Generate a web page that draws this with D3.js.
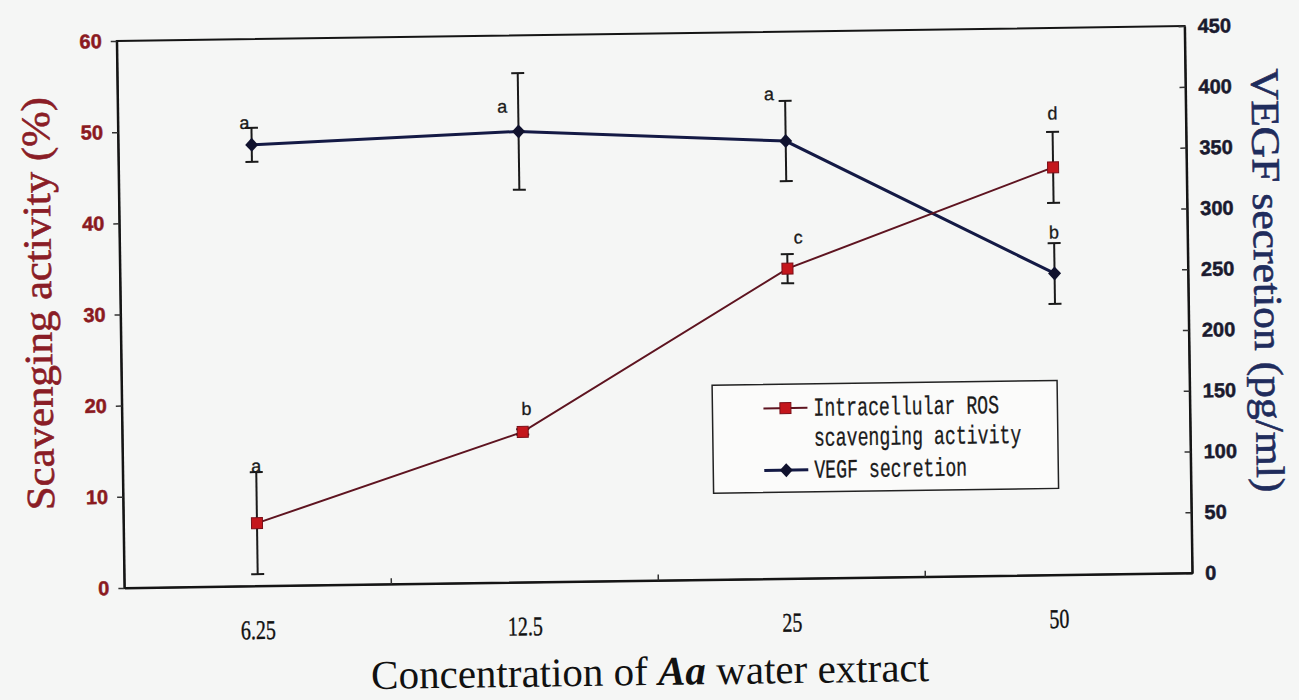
<!DOCTYPE html>
<html>
<head>
<meta charset="utf-8">
<script src="https://cdn.jsdelivr.net/npm/d3@7"></script>
<style>
  html, body { margin: 0; padding: 0; background: #f5f6f5; }
  svg { display: block; }
</style>
</head>
<body>
<svg id="chart" width="1299" height="700"></svg>
<script>
// ---- data ----
const concentrations = ["6.25", "12.5", "25", "50"];
const rosActivity = [6.9, 16.5, 34.0, 44.7];     // Intracellular ROS scavenging activity (%)
const rosError = [5.6, 0.3, 1.6, 3.9];
const rosLetters = ["a", "b", "c", "d"];
const vegfSecretion = [363, 371, 360, 248];      // VEGF secretion (pg/ml)
const vegfError = [14, 48, 33, 25];
const vegfLetters = ["a", "a", "a", "b"];
const leftTicks = [0, 10, 20, 30, 40, 50, 60];
const rightTicks = [0, 50, 100, 150, 200, 250, 300, 350, 400, 450];
const legendLabels = [["Intracellular ROS", "scavenging activity"], ["VEGF secretion"]];

// ---- layout ----
const plot = { left: 120.5, right: 1188.5, top: 33.5, bottom: 580.5 };
// nudges for the significance letters, relative to each point
const rosLetterNudge = [[0, -57], [4, -23], [11, -31], [0, -54]];
const vegfLetterNudge = [[-7, -22], [-16, -25], [-16, -47], [0, -41]];

const RED = "#c4161c", RED_DARK = "#7a0f18", MAROON = "#5e1420";
const NAVY = "#141a45";
const LEFT_COLOR = "#8b1a1f", RIGHT_COLOR = "#1a1a2e";

const svg = d3.select("#chart");
const root = svg.append("g").attr("transform", "rotate(-0.8,654.5,307)");

const x = d3.scaleBand().domain(concentrations).range([plot.left, plot.right]);
const cx = c => x(c) + x.bandwidth() / 2;
const yL = d3.scaleLinear().domain([0, 60]).range([plot.bottom, plot.top]);
const yR = d3.scaleLinear().domain([0, 450]).range([plot.bottom, plot.top]);

// frame
root.append("rect")
  .attr("x", plot.left).attr("y", plot.top)
  .attr("width", plot.right - plot.left).attr("height", plot.bottom - plot.top)
  .attr("fill", "none").attr("stroke", "#151515").attr("stroke-width", 2);

const tickFont = "'Liberation Sans', Arial, sans-serif";

// left axis
const gL = root.append("g").attr("transform", `translate(${plot.left},0)`)
  .call(d3.axisLeft(yL).tickValues(leftTicks).tickSize(6).tickSizeOuter(0).tickPadding(9));
gL.select(".domain").attr("stroke", "#151515").attr("stroke-width", 2);
gL.selectAll(".tick line").attr("stroke", "#333").attr("stroke-width", 1.5);
gL.selectAll(".tick text")
  .attr("font-family", tickFont).attr("font-weight", "bold").attr("font-size", 20)
  .attr("fill", LEFT_COLOR).attr("stroke", LEFT_COLOR).attr("stroke-width", 0.5);

// right axis
const gR = root.append("g").attr("transform", `translate(${plot.right},0)`)
  .call(d3.axisRight(yR).tickValues(rightTicks).tickSize(-6).tickSizeOuter(0).tickPadding(13));
gR.select(".domain").attr("stroke", "#151515").attr("stroke-width", 2);
gR.selectAll(".tick line").attr("stroke", "#333").attr("stroke-width", 1.5);
gR.selectAll(".tick text")
  .attr("font-family", tickFont).attr("font-weight", "bold").attr("font-size", 20)
  .attr("fill", RIGHT_COLOR).attr("stroke", RIGHT_COLOR).attr("stroke-width", 0.5);

// bottom axis: labels centred in each category
const gB = root.append("g").attr("transform", `translate(0,${plot.bottom})`)
  .call(d3.axisBottom(x).tickSize(0).tickSizeOuter(0));
gB.select(".domain").attr("stroke", "#151515").attr("stroke-width", 2);
gB.selectAll(".tick text")
  .attr("y", 53).attr("dy", 0)
  .attr("transform", "scale(0.74,1)")
  .attr("font-family", "'Liberation Serif', 'Times New Roman', serif")
  .attr("font-size", 27).attr("fill", "#111").attr("stroke", "#111").attr("stroke-width", 0.4);

// category separator ticks (inside)
root.append("g").selectAll("line")
  .data(concentrations.slice(1))
  .join("line")
  .attr("x1", d => x(d)).attr("x2", d => x(d))
  .attr("y1", plot.bottom).attr("y2", plot.bottom - 6)
  .attr("stroke", "#333").attr("stroke-width", 1.5);

// ---- series ----
const rosLine = d3.line().x((d, i) => cx(concentrations[i])).y(d => yL(d));
const vegfLine = d3.line().x((d, i) => cx(concentrations[i])).y(d => yR(d));

root.append("path").datum(vegfSecretion).attr("d", vegfLine)
  .attr("fill", "none").attr("stroke", NAVY).attr("stroke-width", 3);
root.append("path").datum(rosActivity).attr("d", rosLine)
  .attr("fill", "none").attr("stroke", MAROON).attr("stroke-width", 2);

// error bars
function errorBars(values, errors, scale) {
  const g = root.append("g").attr("stroke", "#1a1a1a").attr("stroke-width", 2);
  values.forEach((v, i) => {
    const xc = cx(concentrations[i]);
    const y0 = scale(v - errors[i]), y1 = scale(v + errors[i]);
    g.append("line").attr("x1", xc).attr("x2", xc).attr("y1", y0).attr("y2", y1);
    g.append("line").attr("x1", xc - 6.5).attr("x2", xc + 6.5).attr("y1", y0).attr("y2", y0);
    g.append("line").attr("x1", xc - 6.5).attr("x2", xc + 6.5).attr("y1", y1).attr("y2", y1);
  });
}
errorBars(vegfSecretion, vegfError, yR);
errorBars(rosActivity, rosError, yL);

// markers
const diamond = "M0,-7L6.5,0L0,7L-6.5,0Z";
root.append("g").selectAll("path")
  .data(vegfSecretion).join("path")
  .attr("d", diamond)
  .attr("transform", (d, i) => `translate(${cx(concentrations[i])},${yR(d)})`)
  .attr("fill", "#10122e");
root.append("g").selectAll("rect")
  .data(rosActivity).join("rect")
  .attr("x", (d, i) => cx(concentrations[i]) - 5.5).attr("y", d => yL(d) - 5.5)
  .attr("width", 11).attr("height", 11)
  .attr("fill", RED).attr("stroke", RED_DARK).attr("stroke-width", 1);

// significance letters
const letterFont = "'Liberation Sans', Arial, sans-serif";
function letters(values, scale, labels, nudge) {
  root.append("g").selectAll("text")
    .data(values).join("text")
    .attr("x", (d, i) => cx(concentrations[i]) + nudge[i][0])
    .attr("y", (d, i) => scale(d) + nudge[i][1])
    .attr("text-anchor", "middle").attr("dominant-baseline", "central")
    .attr("font-family", letterFont).attr("font-size", 18).attr("fill", "#1a1a1a")
    .attr("stroke", "#1a1a1a").attr("stroke-width", 0.3)
    .text((d, i) => labels[i]);
}
letters(vegfSecretion, yR, vegfLetters, vegfLetterNudge);
letters(rosActivity, yL, rosLetters, rosLetterNudge);

// ---- legend ----
const legend = root.append("g").attr("transform", "translate(711,386)");
legend.append("rect").attr("width", 345).attr("height", 108)
  .attr("fill", "#fbfbfa").attr("stroke", "#222").attr("stroke-width", 1.5);
const legendRows = [
  { color: MAROON, marker: "square", baselines: [32, 62] },
  { color: NAVY, marker: "diamond", baselines: [94] }
];
legendRows.forEach((row, k) => {
  const ly = row.baselines[0] - 8;
  legend.append("line").attr("x1", 51).attr("x2", 95).attr("y1", ly).attr("y2", ly)
    .attr("stroke", row.color).attr("stroke-width", k === 0 ? 2 : 3);
  if (row.marker === "square") {
    legend.append("rect").attr("x", 67.5).attr("y", ly - 5.5).attr("width", 11).attr("height", 11)
      .attr("fill", RED).attr("stroke", RED_DARK);
  } else {
    legend.append("path").attr("d", diamond).attr("transform", `translate(73,${ly})`).attr("fill", "#10122e");
  }
  legendLabels[k].forEach((txt, j) => {
    legend.append("g").attr("transform", `translate(101,${row.baselines[j]}) scale(0.7,1)`)
      .append("text")
      .attr("font-family", "'Liberation Mono', 'DejaVu Sans Mono', monospace")
      .attr("font-size", 26).attr("fill", "#1a1a1a")
      .attr("stroke", "#1a1a1a").attr("stroke-width", 0.3)
      .text(txt);
  });
});

// ---- axis titles ----
const serif = "'Liberation Serif', 'Times New Roman', serif";
root.append("text")
  .attr("transform", "translate(38,295) rotate(-90)")
  .attr("text-anchor", "middle").attr("dominant-baseline", "central")
  .attr("font-family", serif).attr("font-size", 40).attr("fill", "#8a1d26")
  .attr("stroke", "#8a1d26").attr("stroke-width", 0.6)
  .attr("textLength", 413).attr("lengthAdjust", "spacingAndGlyphs")
  .text("Scavenging activity (%)");
root.append("text")
  .attr("transform", "translate(1268,289) rotate(90)")
  .attr("text-anchor", "middle").attr("dominant-baseline", "central")
  .attr("font-family", serif).attr("font-size", 40).attr("fill", "#1f2c5c")
  .attr("stroke", "#1f2c5c").attr("stroke-width", 0.6)
  .attr("textLength", 424).attr("lengthAdjust", "spacingAndGlyphs")
  .text("VEGF secretion (pg/ml)");
const xt = root.append("text")
  .attr("x", 645).attr("y", 685).attr("text-anchor", "middle")
  .attr("font-family", serif).attr("font-size", 41).attr("fill", "#111");
xt.append("tspan").text("Concentration of ");
xt.append("tspan").attr("font-weight", "bold").attr("font-style", "italic").text("Aa");
xt.append("tspan").text(" water extract");
</script>
</body>
</html>
